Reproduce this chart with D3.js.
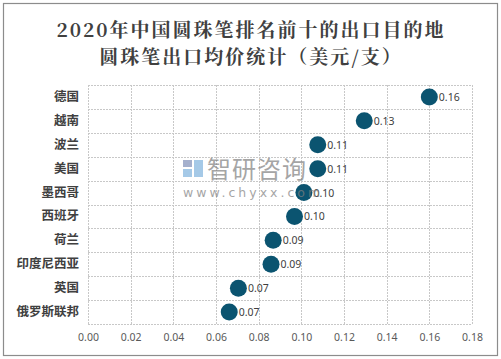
<!DOCTYPE html>
<html><head><meta charset="utf-8">
<script src="https://cdn.jsdelivr.net/npm/d3@7"></script>
<style>body{margin:0;background:#fff;} svg{display:block;}</style>
</head><body>
<script>
const categories = ["德国","越南","波兰","美国","墨西哥","西班牙","荷兰","印度尼西亚","英国","俄罗斯联邦"];
const values = [0.160, 0.1295, 0.1077, 0.1077, 0.1012, 0.0968, 0.0868, 0.0858, 0.0705, 0.0662];
const valueLabels = ["0.16","0.13","0.11","0.11","0.10","0.10","0.09","0.09","0.07","0.07"];
const xTicks = [0,0.02,0.04,0.06,0.08,0.10,0.12,0.14,0.16,0.18];
const titleLines = ["2020年中国圆珠笔排名前十的出口目的地","圆珠笔出口均价统计（美元/支）"];

const W = 501, H = 359;
const m = {left: 88, right: 29, top: 85, bottom: 35};
const svg = d3.select("body").append("svg").attr("width", W).attr("height", H);

svg.append("rect").attr("x",3.5).attr("y",3.5).attr("width",W-7).attr("height",H-7)
  .attr("fill","#fff").attr("stroke","#8c8c8c").attr("stroke-width",1.2);

svg.selectAll("text.title").data(titleLines).join("text")
  .attr("class","title")
  .attr("x", 251).attr("y", (d,i)=> 37 + i*26.5)
  .attr("text-anchor","middle")
  .attr("font-family","'Noto Serif CJK SC','Noto Sans CJK SC',serif")
  .attr("font-size",19).attr("font-weight","bold").attr("letter-spacing",2)
  .attr("fill","#404040")
  .text(d=>d);

const x = d3.scaleLinear().domain([0,0.18]).range([m.left, W-m.right]);
const y = d3.scaleBand().domain(categories).range([m.top, H-m.bottom]);

const g = svg.append("g");
g.selectAll("line.vg").data(xTicks).join("line")
  .attr("x1",d=>Math.round(x(d))+0.5).attr("x2",d=>Math.round(x(d))+0.5).attr("y1",m.top).attr("y2",H-m.bottom)
  .attr("stroke","#c8c8c8").attr("stroke-dasharray","2,1").attr("stroke-width",1);
const hb = categories.map(c=>y(c)).concat([y.range()[1]]);
g.selectAll("line.hg").data(hb).join("line")
  .attr("x1",m.left).attr("x2",W-m.right).attr("y1",d=>Math.round(d)+0.5).attr("y2",d=>Math.round(d)+0.5)
  .attr("stroke","#c8c8c8").attr("stroke-dasharray","2,1").attr("stroke-width",1);

const xa = svg.append("g").attr("transform",`translate(0,${H-m.bottom})`)
  .call(d3.axisBottom(x).tickValues(xTicks).tickFormat(d3.format(".2f")).tickSize(0).tickPadding(10));
xa.select(".domain").remove();
xa.selectAll("text").attr("font-family","'Noto Sans',sans-serif").attr("font-size",10.5).attr("fill","#595959");

const ya = svg.append("g").attr("transform",`translate(${m.left},0)`)
  .call(d3.axisLeft(y).tickSize(0).tickPadding(9));
ya.select(".domain").remove();
ya.selectAll("text").attr("font-family","'Noto Sans CJK SC',sans-serif").attr("font-size",12.5).attr("font-weight","bold").attr("fill","#404040");

const data = categories.map((c,i)=>({c, v: values[i], l: valueLabels[i]}));
svg.selectAll("circle.dot").data(data).join("circle")
  .attr("cx",d=>x(d.v)).attr("cy",d=>y(d.c)+y.bandwidth()/2).attr("r",8.5)
  .attr("fill","#0b5470");
svg.selectAll("text.val").data(data).join("text")
  .attr("x",d=>x(d.v)+9.5).attr("y",d=>y(d.c)+y.bandwidth()/2+4)
  .attr("font-family","'Noto Sans',sans-serif").attr("font-size",10.5).attr("fill","#404040")
  .text(d=>d.l);

const wm = svg.append("g").attr("opacity",0.7);
wm.append("rect").attr("x",183).attr("y",160).attr("width",9).attr("height",7).attr("fill","#7f8fb8");
wm.append("rect").attr("x",183).attr("y",169).attr("width",9).attr("height",8).attr("fill","#7fb3dd");
wm.append("rect").attr("x",194).attr("y",160).attr("width",9).attr("height",17).attr("fill","#7fb3dd");
wm.append("text").attr("x",207).attr("y",178).attr("font-family","'Noto Sans CJK SC',sans-serif")
  .attr("font-size",24).attr("fill","#808080").attr("letter-spacing",1).text("智研咨询");
wm.append("text").attr("x",183).attr("y",197).attr("font-family","'DejaVu Sans',sans-serif")
  .attr("font-size",12.5).attr("fill","#808080").attr("letter-spacing",3).text("www.chyxx.com");
</script>
</body></html>
